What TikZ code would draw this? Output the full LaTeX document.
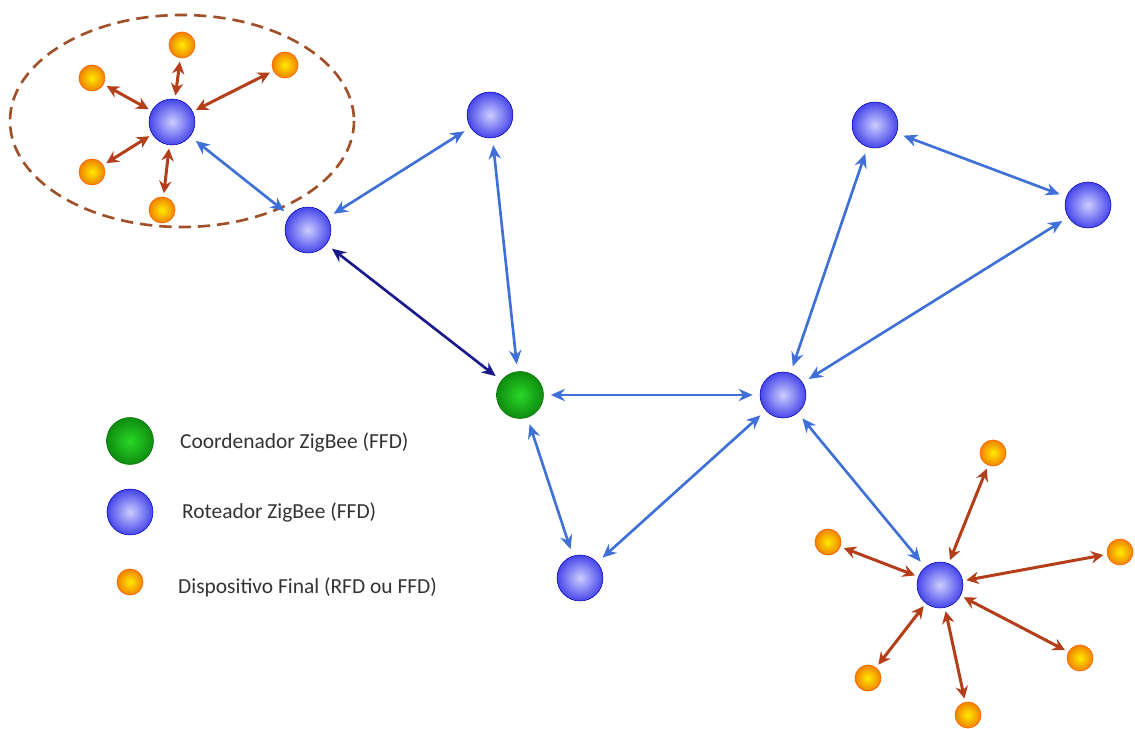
\documentclass[tikz,border=0pt]{standalone}
\usepackage{fontspec}
\setmainfont{Carlito}
\usetikzlibrary{arrows.meta}

\definecolor{linkblue}{RGB}{62,112,215}
\definecolor{linknavy}{RGB}{25,25,140}
\definecolor{linkbrown}{RGB}{180,62,25}
\definecolor{ringbrown}{RGB}{160,80,40}

\begin{document}
\begin{tikzpicture}[x=0.02cm, y=-0.02cm,
  router/.style={circle, inner sep=0pt, minimum size=0.92cm, draw=blue!70!black, line width=0.3pt, inner color={rgb,255:red,205;green,205;blue,255}, outer color={rgb,255:red,70;green,70;blue,235}},
  coord/.style={circle, inner sep=0pt, minimum size=0.94cm, draw=green!45!black, line width=0.3pt, inner color={rgb,255:red,40;green,215;blue,40}, outer color={rgb,255:red,15;green,140;blue,15}},
  enddev/.style={circle, inner sep=0pt, minimum size=0.52cm, draw=orange!80!red, line width=0.4pt, inner color={rgb,255:red,255;green,235;blue,0}, outer color={rgb,255:red,240;green,130;blue,0}},
  link/.style={linkblue, line width=1.5pt, {Stealth[length=8pt,width=7pt]}-{Stealth[length=8pt,width=7pt]}, shorten <=4pt, shorten >=4pt},
  leaf/.style={linkbrown, line width=1.7pt, {Stealth[length=7pt,width=7pt]}-{Stealth[length=7pt,width=7pt]}, shorten <=2pt, shorten >=2pt},
  legend/.style={anchor=west, font=\fontsize{12.2}{14}\selectfont, text=black!80}]

\useasboundingbox (0,0) rectangle (1135,729);

% cluster ring
\draw[ringbrown, line width=1.5pt, dash pattern=on 7pt off 4pt] (182,121) ellipse [x radius=172, y radius=106];

% routers and coordinator
\node[router] (r1) at (172,122) {};
\node[router] (r2) at (308,230) {};
\node[router] (r3) at (490,115) {};
\node[coord] (c) at (520,395) {};
\node[router] (r4) at (580,578) {};
\node[router] (r5) at (783,395) {};
\node[router] (r6) at (875,125) {};
\node[router] (r7) at (1088,205) {};
\node[router] (r8) at (940,585) {};

% end devices
\node[enddev] (a1) at (182,45) {};
\node[enddev] (a2) at (285,65) {};
\node[enddev] (a3) at (92,78) {};
\node[enddev] (a4) at (92,172) {};
\node[enddev] (a5) at (162,210) {};

\node[enddev] (b1) at (993,453) {};
\node[enddev] (b2) at (1120,552) {};
\node[enddev] (b3) at (1080,658) {};
\node[enddev] (b4) at (968,715) {};
\node[enddev] (b5) at (868,678) {};
\node[enddev] (b6) at (828,542) {};

% links
\draw[link] (r1) -- (r2);
\draw[link] (r2) -- (r3);
\draw[link, linknavy] (r2) -- (c);
\draw[link] (r3) -- (c);
\draw[link] (c) -- (r5);
\draw[link] (c) -- (r4);
\draw[link] (r4) -- (r5);
\draw[link] (r5) -- (r6);
\draw[link] (r5) -- (r7);
\draw[link] (r6) -- (r7);
\draw[link] (r5) -- (r8);

\foreach \e in {a1,a2,a3,a4,a5}
  \draw[leaf] (r1) -- (\e);
\foreach \e in {b1,b2,b3,b4,b5,b6}
  \draw[leaf] (r8) -- (\e);

% legend
\node[coord] (lc) at (130,441) {};
\node[router] (lr) at (130,512) {};
\node[enddev] (le) at (130,582) {};
\node[legend] (tc) at (174,443) {Coordenador ZigBee (FFD)};
\node[legend] (tr) at (176,512) {Roteador ZigBee (FFD)};
\node[legend] (te) at (172,587) {Dispositivo Final (RFD ou FFD)};

\end{tikzpicture}
\end{document}
